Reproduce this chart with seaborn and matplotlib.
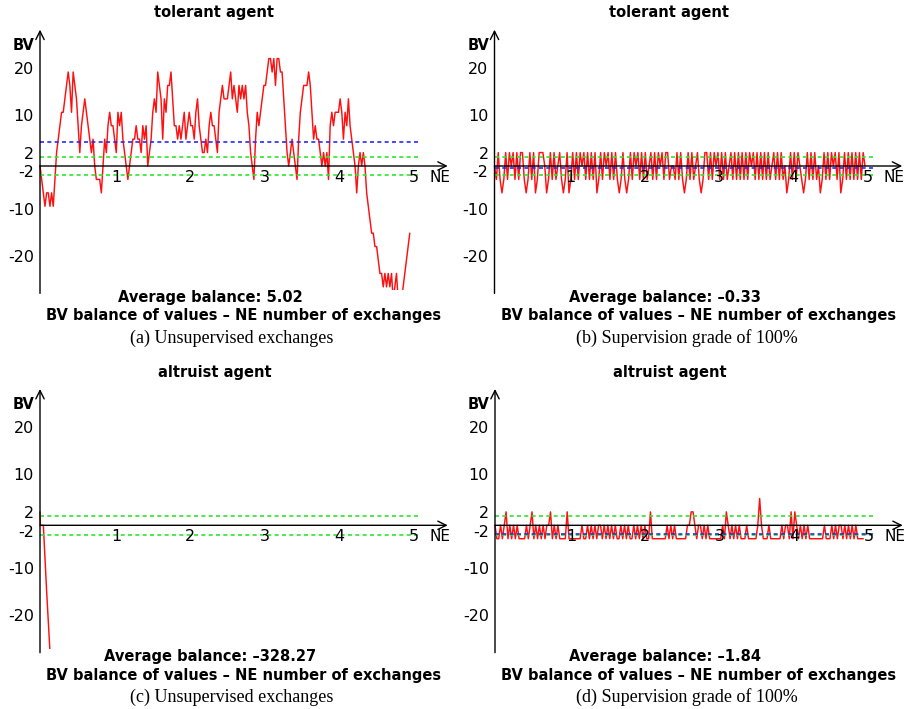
import numpy as np
import matplotlib
matplotlib.use("Agg")
import matplotlib.pyplot as plt
import matplotlib.transforms as mtransforms
import seaborn as sns

# The balance of values moves in whole steps of 20/7 value units.
STEP = 20 / 7

# (a) tolerant agent, unsupervised exchanges (balance in steps)
tolerant_unsup_steps = [
    0, -1, -2, -3, -2, -2, -3, -2, -3, -1, 1, 2, 3, 4, 4, 5, 6, 7, 6, 4,
    7, 6, 5, 3, 1, 3, 4, 5, 4, 3, 2, 1, 2, 0, -1, -1, -1, -2, 0, 2,
    1, 3, 4, 3, 3, 2, 1, 4, 3, 4, 2, 1, 0, -1, 0, 1, 2, 2, 3, 2,
    2, 1, 3, 2, 3, 0, 1, 2, 4, 5, 4, 7, 6, 5, 2, 5,
    4, 6, 6, 7, 5, 3, 3, 2, 3, 2, 3, 4, 2, 3, 4, 3, 3, 2, 4, 5,
    3, 2, 1, 1, 2, 1, 3, 4, 3, 3, 2, 1, 4, 5, 6, 5, 5, 5, 6, 7,
    5, 6, 5, 4, 6, 5, 6, 5, 6, 4, 3, 1, 0, -1, 2, 4, 3, 4, 5, 6,
    6, 7, 8, 8, 7, 8, 6, 8, 8, 7, 7, 5, 3, 1, 0,
    1, 2, 1, 0, -1, 2, 4, 5, 6, 6, 6, 7, 6, 4, 2, 3, 2, 2, 1, 0,
    1, 0, 1, -1, 3, 4, 3, 4, 4, 4, 5, 4, 2, 4, 3, 5, 3, 2, 1, 0,
    -2, 0, 1, 0, 1, 0, -2, -3, -4, -5, -5, -6, -6, -7, -8, -8, -9, -8, -9, -8,
    -9, -8, -10, -9, -8, -10, -10, -10, -9, -8, -7, -6, -5,
]

# (b) tolerant agent, supervision grade of 100%
tolerant_sup_steps = [
    0, -1, 1, -1, -2, -1, 1, -1, 1, 0, 1, -1, 1, -1, 1, 1, -1, -2, -1, 1,
    -1, 1, -2, -1, 1, 1, 1, 0, -2, -1, 1, -1, 1, -1, 0, 1, -1, -2, -1, 1,
    -2, -1, 1, -1, 1, -1, 1, 0, 1, -1, 1, -1, 1, -1, 1, -2, -1, 1, -1, 1,
    0, 1, -1, 1, -1, 1, -1, -2, -1, 1, -1, -2, -1, 1, -1, 1, 0, 1, -1, 1,
    -1, 1, -1, 0, 1, -1, 1, -1, 1, 0, 1, -1, 1, 1, -1, 0, 0, -1, 1, -1,
    1, -1, -2, -1, 1, -1, 1, -1, 0, 1, -1, -2, -1, 1, 1, -1, 1, -1, 1, 0,
    1, -1, 1, -1, 1, -1, 0, 1, -1, 1, -1, 1, -1, 1, -1, 1, -1, 1, 0, 1,
    -1, 1, -1, 1, -1, 1, -1, 1, -1, 0, 1, -1, 1, -1, 1, -1, 0, -2, -1, 1,
    -1, 1, -1, 1, 0, -1, -2, -1, 1, -1, 1, -1, 1, -1, 0, -2, -1, 1, -1, 1,
    -1, 1, 0, 1, -1, 1, -2, -1, 1, -1, 1, -1, 1, -1, 1, -1, 1, -1, 1, 0,
]

# (c) altruist agent, unsupervised exchanges (only the start stays in view)
altruist_unsup_ne = [0.0, 0.005, 0.045, 0.09, 0.14]
altruist_unsup_steps = [1, 0, 0, -5, -10]

# (d) altruist agent, supervision grade of 100%
altruist_sup_steps = [
    0, -1, -1, 0, -1, 0, 1, -1, 0, -1, 0, -1, 0, -1, -1, -1, -1, 0, -1, 0,
    1, -1, 0, -1, 0, -1, 0, -1, 0, 0, 1, -1, 0, -1, 0, -1, -1, -1, -1, 1,
    -1, -1, -1, -1, -1, -1, -1, 0, -1, -1, 0, -1, 0, -1, 0, -1, 0, 0, -1, 0,
    -1, 0, -1, 0, -1, 0, -1, -1, 0, -1, 0, -1, 0, -1, -1, 0, -1, 0, -1, 0,
    -1, 0, -1, -1, 1, -1, -1, -1, -1, -1, -1, -1, -1, 0, -1, 0, -1, 0, -1, -1,
    -1, -1, -1, -1, 0, 0, 1, 1, 0, -1, 0, 0, -1, 0, -1, 0, -1, -1, -1, -1,
    -1, -1, -1, 0, -1, 1, 0, -1, 0, -1, 0, -1, 0, -1, -1, -1, 0, -1, -1, -1,
    -1, -1, 0, 2, 0, -1, -1, -1, 0, -1, -1, -1, -1, -1, -1, 0, -1, 0, 0, -1,
    1, -1, 1, 0, -1, 0, -1, 0, -1, 0, -1, -1, -1, -1, -1, -1, -1, -1, 0, -1,
    -1, -1, 0, -1, 0, -1, 0, 0, -1, 0, -1, 0, -1, 0, -1, 0, -1, -1, -1, -1,
]

# last exchange reached by each series, in NE units
series_end_ne = [4.97, 4.98, None, 4.95]

average_balance = [5.02, -0.33, -328.27, -1.84]
titles = ["tolerant agent", "tolerant agent", "altruist agent", "altruist agent"]
captions = [
    "(a) Unsupervised exchanges",
    "(b) Supervision grade of 100%",
    "(c) Unsupervised exchanges",
    "(d) Supervision grade of 100%",
]
ytick_values = [20, 10, 2, -2, -10, -20]
xtick_values = [1, 2, 3, 4, 5]
tolerance_band = [2, -2]
axis_footer = "BV balance of values – NE number of exchanges"

sns.set_theme(style="white")
plt.rcParams["font.family"] = ["DejaVu Sans"]
plt.rcParams["text.color"] = "black"

W, H = 913, 709
fig = plt.figure(figsize=(W / 100, H / 100), dpi=100)

PX_PER_X = 74.4
PX_PER_Y = 4.7
XLIM = (-0.1, 5.6)
YLIM = (-26.4, 30.0)
origins = [(40.0, 166.0), (494.5, 166.0), (40.0, 525.3), (495.0, 525.3)]

RED = "#ff1010"
GREEN = "#2ee62e"
BLUE = "#2a2af0"
DASH = (0, (2.4, 2.0))


def add_panel(ox, oy):
    left = ox + XLIM[0] * PX_PER_X
    right = ox + XLIM[1] * PX_PER_X
    top = oy - YLIM[1] * PX_PER_Y
    bottom = oy - YLIM[0] * PX_PER_Y
    ax = fig.add_axes([left / W, 1 - bottom / H, (right - left) / W, (bottom - top) / H])
    ax.set_xlim(*XLIM)
    ax.set_ylim(*YLIM)
    ax.axis("off")
    return ax


def series_xy(i):
    if i == 2:
        return np.array(altruist_unsup_ne), np.array(altruist_unsup_steps) * STEP
    steps = [tolerant_unsup_steps, tolerant_sup_steps, None, altruist_sup_steps][i]
    ne = np.linspace(0, series_end_ne[i], len(steps))
    return ne, np.array(steps) * STEP


for i, (ox, oy) in enumerate(origins):
    ax = add_panel(ox, oy)
    ne, bv = series_xy(i)
    sns.lineplot(x=ne, y=bv, ax=ax, color=RED, lw=1.05, estimator=None,
                 sort=False, legend=False, zorder=2)

    # tolerance band and average balance
    ax.hlines(tolerance_band, 0, 5.12, colors=GREEN, linestyles=DASH, lw=1.2, zorder=3)
    ax.hlines([average_balance[i]], 0, 5.12, colors=BLUE, linestyles=DASH, lw=1.2, zorder=3)

    # arrowed axes
    arrow = dict(arrowstyle="->,head_length=0.5,head_width=0.25", lw=1.0,
                 color="black", shrinkA=0, shrinkB=0)
    ax.annotate("", xy=(0, 29.0), xytext=(0, -27.1), arrowprops=arrow,
                annotation_clip=False, zorder=4)
    ax.annotate("", xy=(5.48, 0), xytext=(0, 0), arrowprops=arrow,
                annotation_clip=False, zorder=4)

    up = mtransforms.offset_copy(ax.transData, fig=fig, y=2.5, units="dots")
    for v in ytick_values:
        ax.text(-0.08, v, str(v), transform=up, ha="right", va="center",
                fontsize=11.5, color="black", clip_on=False)
    for v in xtick_values:
        ax.text(v + 0.02, -2.35, str(v), ha="center", va="center",
                fontsize=11.5, color="black", clip_on=False, zorder=5)
    ax.text(5.37, -2.35, "NE", ha="center", va="center", fontsize=11,
            color="black", clip_on=False)
    ax.text(-0.22, 25.7, "BV", ha="center", va="center", fontsize=10.5,
            fontweight="bold", color="black", clip_on=False)

    ax.text(2.345, 32.6, titles[i], ha="center", va="center", fontsize=10.5,
            fontweight="bold", color="black", clip_on=False)
    avg_label = f"{average_balance[i]:.2f}".replace("-", "–")
    ax.text(2.29, -27.9, f"Average balance: {avg_label}", ha="center",
            va="center", fontsize=10.5, fontweight="bold", color="black",
            clip_on=False)
    ax.text(2.74, -31.9, axis_footer, ha="center", va="center",
            fontsize=10.5, fontweight="bold", color="black", clip_on=False)
    ax.text(2.58, -36.6, captions[i], ha="center", va="center",
            fontsize=13, family="Liberation Serif", color="black", clip_on=False)

fig.savefig("out.png", dpi=100)
